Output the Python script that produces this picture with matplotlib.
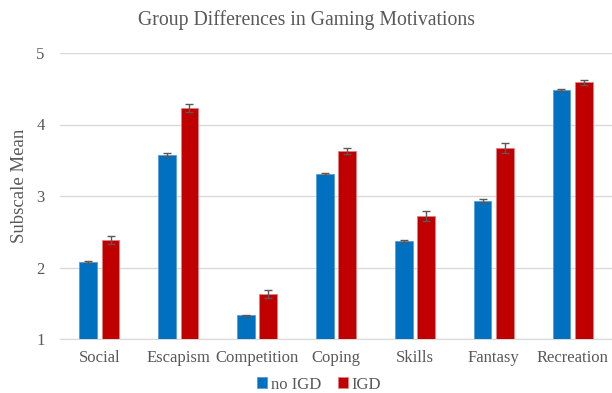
import matplotlib
matplotlib.use("Agg")
import matplotlib.pyplot as plt
import numpy as np

categories = ["Social", "Escapism", "Competition", "Coping", "Skills", "Fantasy", "Recreation"]
no_igd = [2.07, 3.57, 1.33, 3.31, 2.37, 2.93, 4.48]
no_igd_err = [0.014, 0.028, 0.012, 0.014, 0.02, 0.028, 0.01]
igd = [2.39, 4.23, 1.63, 3.63, 2.72, 3.67, 4.59]
igd_err = [0.056, 0.056, 0.05, 0.046, 0.07, 0.065, 0.033]
series_names = ["no IGD", "IGD"]
yticks = [1, 2, 3, 4, 5]

plt.rcParams['font.family'] = ['Liberation Serif', 'DejaVu Serif']

fig = plt.figure(figsize=(6.12, 3.93), dpi=100)
ax = fig.add_axes([60/612, 1-339/393, 552/612, 286/393])

x = np.arange(len(categories))
w = 0.225
off = 0.142
ekw = dict(ecolor="#595959", elinewidth=1.0, capsize=3, capthick=1.0)
ax.bar(x - off, no_igd, w, bottom=0, color="#0070C0", edgecolor="#5B9BD5", linewidth=0.6,
       yerr=no_igd_err, error_kw=ekw, label=series_names[0], zorder=3)
ax.bar(x + off, igd, w, bottom=0, color="#C00000", edgecolor="#E08080", linewidth=0.6,
       yerr=igd_err, error_kw=ekw, label=series_names[1], zorder=3)

ax.set_ylim(1, 5)
ax.set_xlim(-0.5, len(categories) - 0.5)
ax.set_yticks(yticks)
ax.set_xticks(x)
ax.set_xticklabels(categories)
ax.yaxis.grid(True, color="#D9D9D9", linewidth=1.0, zorder=0)
ax.set_axisbelow(True)
for s in ["top", "right", "left"]:
    ax.spines[s].set_visible(False)
ax.spines["bottom"].set_color("#D9D9D9")
ax.tick_params(axis="both", length=0, labelsize=12, colors="#595959")
ax.tick_params(axis="x", pad=8)
ax.tick_params(axis="y", pad=11)
ax.set_ylabel("Subscale Mean", fontsize=13.5, color="#595959")
ax.yaxis.set_label_coords(-0.058, 0.535)

fig.suptitle("Group Differences in Gaming Motivations", fontsize=14.2, color="#595959", y=0.975)

ax.legend(loc="lower center", bbox_to_anchor=(0.469, -0.24), ncol=2, frameon=False,
          fontsize=12, labelcolor="#595959", handlelength=0.6, handleheight=0.6,
          handletextpad=0.25, columnspacing=1.0)

fig.savefig("out.png", dpi=100)
